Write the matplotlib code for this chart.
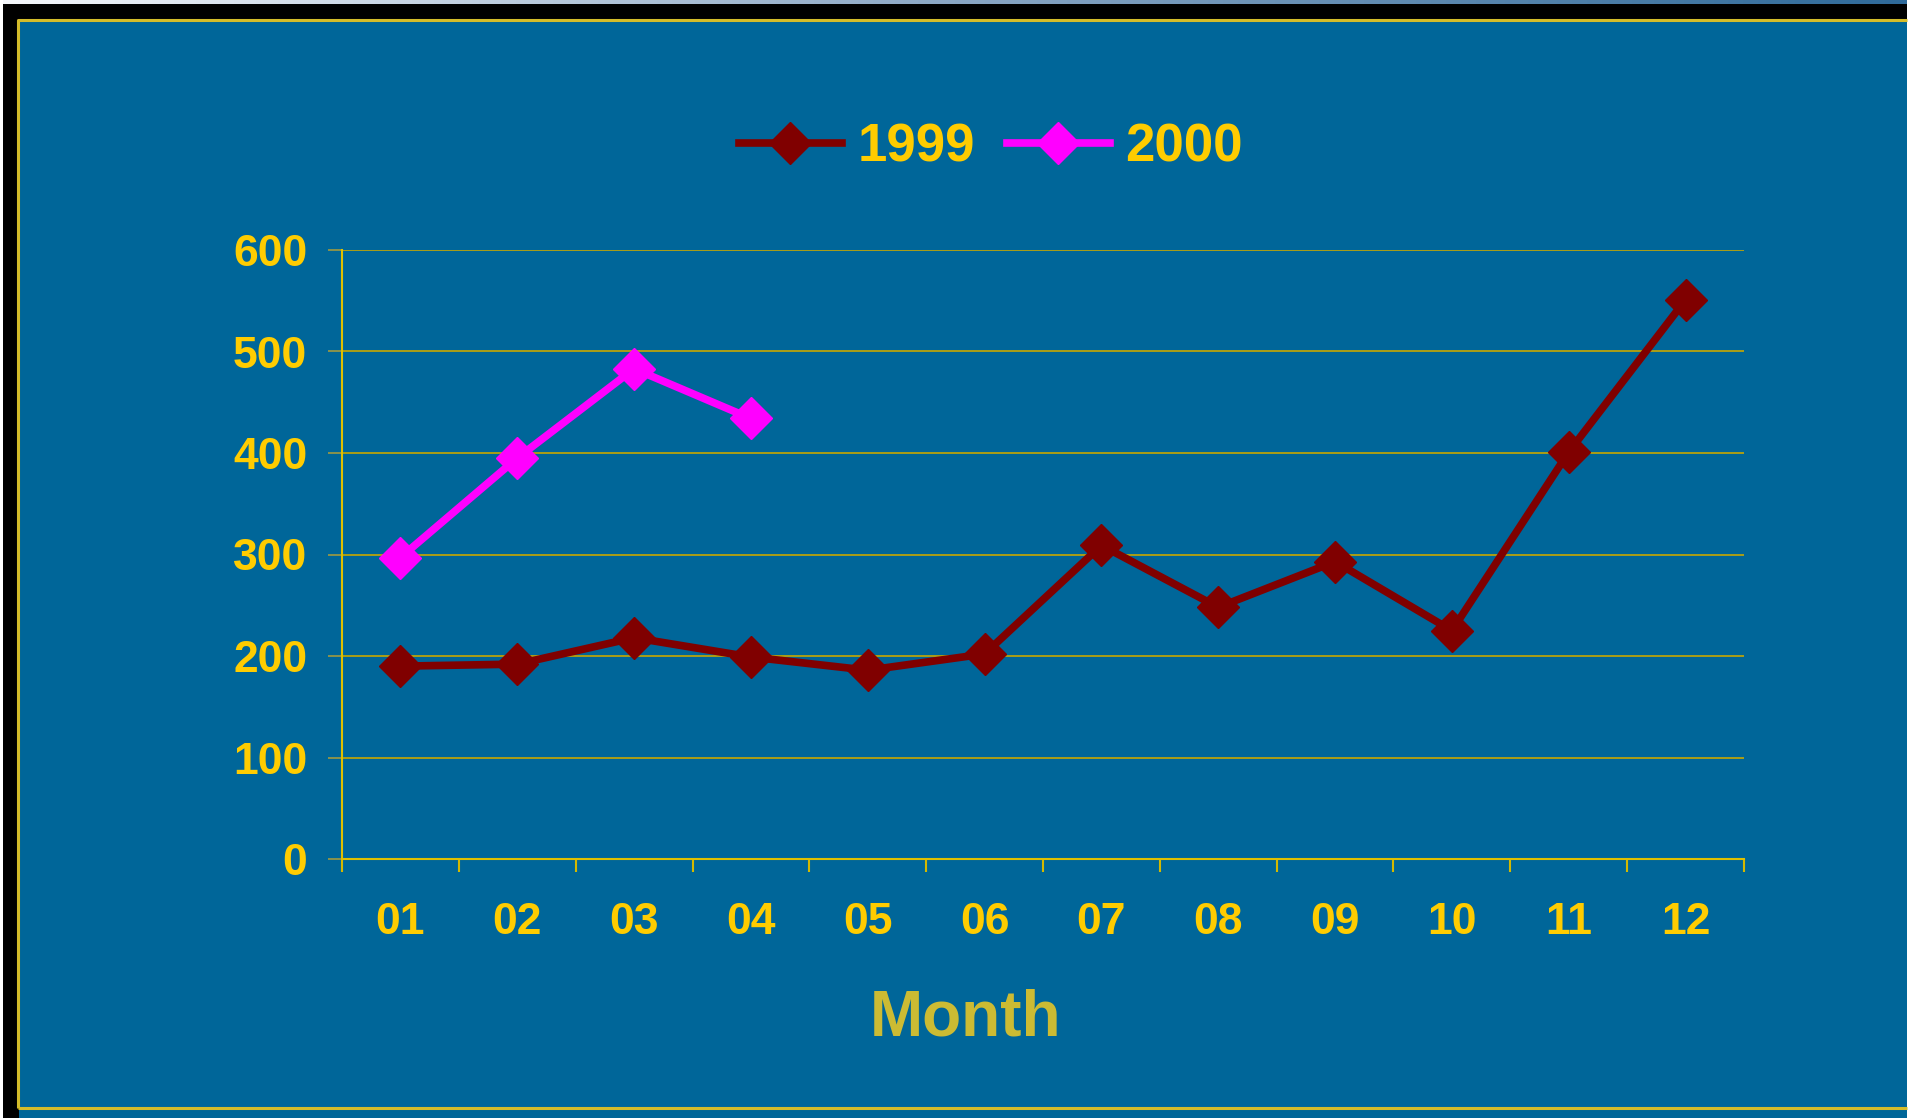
import numpy as np
import matplotlib.pyplot as plt
from matplotlib.patches import Rectangle

# data
months = ['01', '02', '03', '04', '05', '06', '07', '08', '09', '10', '11', '12']
sales_1999 = [190, 192, 218, 199, 186, 202, 309, 248, 293, 225, 401, 551]
sales_2000 = [297, 395, 483, 434]
y_ticks = [0, 100, 200, 300, 400, 500, 600]

blue = '#006699'
yellow = '#FFCC00'
grid_col = '#C8A800'
maroon = '#800000'
magenta = '#FF00FF'

plt.rcParams['font.family'] = ['Liberation Sans', 'DejaVu Sans']
plt.rcParams['font.weight'] = 'bold'

W, H = 1916, 1118
fig = plt.figure(figsize=(W / 100, H / 100), dpi=100, facecolor='white')

# slide frame, drawn in pixel coords on a background axes
bg = fig.add_axes([0, 0, 1, 1], zorder=-10)
bg.set_xlim(0, W)
bg.set_ylim(H, 0)
bg.axis('off')
grad = np.linspace(0, 1, 256).reshape(1, -1)
bg.imshow(grad, extent=[3, 1907, 4, 0], cmap=plt.matplotlib.colors.LinearSegmentedColormap.from_list(
    'g', ['#f4f6fa', '#8aa6c4', '#2f6a9a']), aspect='auto')
bg.add_patch(Rectangle((3, 4), 1904, 1114, color='black', lw=0))
bg.add_patch(Rectangle((19, 20), 1888, 1098, color=blue, lw=0))
bg.plot([18.5, 18.5, 1907], [1108, 19.5, 19.5], color='#D4BC2A', lw=2.2, solid_capstyle='butt')
bg.plot([18.5, 1907], [1107.5, 1107.5], color='#D4BC2A', lw=2.2, solid_capstyle='butt')

ax = fig.add_axes([342 / W, 1 - 859 / H, (1744 - 342) / W, (859 - 250) / H])
ax.set_facecolor('none')

x = np.arange(1, len(months) + 1)
ax.plot(x, sales_1999, color=maroon, lw=5.5, marker='D', ms=21, mec=maroon,
        label='1999', clip_on=False, zorder=3)
ax.plot(x[:len(sales_2000)], sales_2000, color=magenta, lw=5.5, marker='D', ms=21,
        mec=magenta, label='2000', clip_on=False, zorder=4)

ax.set_xlim(0.5, 12.5)
ax.set_ylim(0, 600)
ax.set_yticks(y_ticks)
ax.set_yticklabels([str(v) for v in y_ticks])
ax.set_xticks(np.arange(0.5, 13, 1))
ax.set_xticklabels([])
ax.set_xticks(x, minor=True)
ax.set_xticklabels(months, minor=True)

ax.grid(axis='y', color=grid_col, lw=1.2)
ax.set_axisbelow(True)
for s in ['top', 'right']:
    ax.spines[s].set_visible(False)
for s in ['left', 'bottom']:
    ax.spines[s].set_color('#E0C000')
    ax.spines[s].set_linewidth(1.5)

ax.tick_params(axis='y', length=10, width=1.2, color='#A09a40', pad=15,
               labelsize=32, labelcolor=yellow)
ax.tick_params(axis='x', which='major', length=9.4, width=1.5, color='#D4B800')
ax.tick_params(axis='x', which='minor', length=0, pad=31, labelsize=32,
               labelcolor=yellow)

fig.text(966 / W, 1 - 1035 / H, 'Month', ha='center', va='baseline',
         fontsize=46, fontweight='bold', color='#CCBB33')

leg = fig.legend(loc='center', bbox_to_anchor=(991 / W, 1 - 147 / H), ncol=2,
                 frameon=False, fontsize=38, handlelength=1.95,
                 handletextpad=0.3, columnspacing=0.6)
for t in leg.get_texts():
    t.set_color(yellow)
    t.set_fontweight('bold')

fig.savefig('out.png', dpi=100, facecolor='white')
